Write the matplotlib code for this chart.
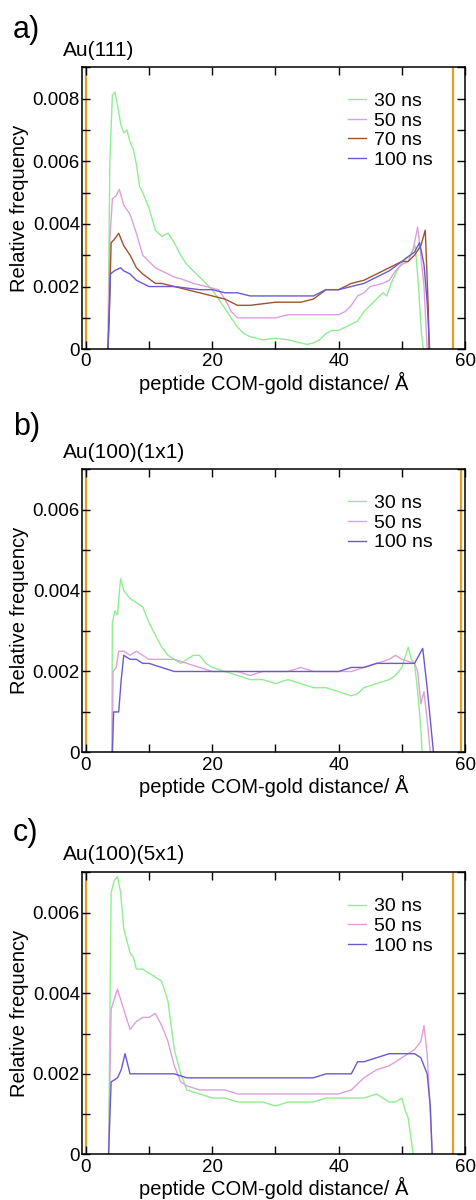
import matplotlib
matplotlib.use("Agg")
import matplotlib.pyplot as plt
from matplotlib.ticker import MultipleLocator, FuncFormatter

plt.rcParams['font.family'] = ['Liberation Sans', 'DejaVu Sans']

# ---- panel a) Au(111) ----
a_x30 = [3.5, 3.8, 4.2, 4.6, 5.0, 5.5, 6, 6.5, 7, 7.5, 8, 8.5, 9, 10, 11, 12, 13, 14, 15, 16,
         17, 18, 19, 20, 21, 22, 23, 24, 25, 26, 27, 28, 30, 32, 34, 35, 36, 37, 38, 39,
         40, 41, 42, 43, 44, 45, 46, 47, 47.6, 48.5, 49.5, 50.5, 51.3, 52.1, 52.6, 53.1, 53.4]
a_y30 = [0, 0.0060, 0.0081, 0.0082, 0.0078, 0.0072, 0.0069, 0.0070, 0.0066, 0.0064,
         0.0059, 0.0052, 0.0050, 0.0045, 0.0038, 0.0036, 0.0037, 0.0034, 0.0030, 0.0027,
         0.0025, 0.0023, 0.0021, 0.0019, 0.0016, 0.0013, 0.0010, 0.0007, 0.0005, 0.0004,
         0.00035, 0.0003, 0.00035, 0.0003, 0.0002, 0.00015, 0.0002, 0.0003, 0.0005, 0.0006,
         0.0006, 0.0007, 0.0008, 0.0009, 0.0012, 0.0014, 0.0016, 0.0018, 0.0017, 0.0022,
         0.0026, 0.0029, 0.0030, 0.0033, 0.0021, 0.0005, 0]
a_x50 = [3.5, 3.8, 4.2, 4.8, 5.3, 6, 7, 8, 9, 10, 11, 12, 13, 14, 15, 17, 19, 21, 22, 23,
         24, 26, 28, 30, 32, 34, 36, 38, 40, 41, 42, 43, 44, 45, 47, 48, 49, 50, 51, 51.8,
         52.5, 53, 53.5, 54]
a_y50 = [0, 0.0035, 0.0048, 0.0049, 0.0051, 0.0046, 0.0043, 0.0037, 0.0030, 0.0028,
         0.0026, 0.0025, 0.0024, 0.0023, 0.00225, 0.0021, 0.0020, 0.0019, 0.0016, 0.0012,
         0.0010, 0.0010, 0.0010, 0.0010, 0.0011, 0.0011, 0.0011, 0.0011, 0.0011, 0.0012,
         0.0014, 0.0017, 0.0018, 0.0020, 0.0021, 0.0022, 0.0025, 0.0027, 0.0028, 0.0032,
         0.0039, 0.0030, 0.0020, 0]
a_x70 = [3.5, 3.7, 4.0, 4.5, 5.2, 6, 7, 8, 9, 10, 11, 12, 14, 16, 18, 20, 22, 24, 26, 28,
         30, 32, 34, 36, 38, 40, 42, 44, 46, 48, 50, 51, 52, 53, 53.7, 54.2, 54.3]
a_y70 = [0, 0.0010, 0.0034, 0.0035, 0.0037, 0.0033, 0.0030, 0.0026, 0.0024, 0.00225,
         0.0021, 0.0021, 0.0020, 0.0019, 0.0018, 0.0017, 0.0016, 0.0014, 0.0014, 0.00145,
         0.0015, 0.0015, 0.0015, 0.0016, 0.0019, 0.0019, 0.0021, 0.0022, 0.0024, 0.0026,
         0.0028, 0.0028, 0.0030, 0.0033, 0.0038, 0.0012, 0]
a_x100 = [3.5, 3.9, 4.5, 5.5, 6, 7, 8, 9, 10, 12, 14, 16, 18, 20, 22, 24, 26, 28, 30, 32,
          34, 36, 38, 40, 42, 44, 46, 48, 50, 52, 52.8, 53.5, 54, 54.4]
a_y100 = [0, 0.0024, 0.0025, 0.0026, 0.0025, 0.0024, 0.0022, 0.0021, 0.0020, 0.0020,
          0.0020, 0.00195, 0.0019, 0.0019, 0.0018, 0.0018, 0.0017, 0.0017, 0.0017, 0.0017,
          0.0017, 0.0017, 0.0019, 0.0019, 0.0020, 0.0021, 0.0023, 0.0025, 0.0028, 0.0031,
          0.0034, 0.0027, 0.0015, 0]

# ---- panel b) Au(100)(1x1) ----
b_x30 = [4.1, 4.2, 4.6, 5.0, 5.5, 6, 7, 8, 9, 10, 11, 12, 13, 14, 15, 16, 17, 18, 19, 20,
         22, 24, 26, 28, 30, 32, 34, 36, 38, 40, 42, 43, 44, 46, 48, 49, 50, 51, 51.5, 52,
         52.5, 53, 53.2]
b_y30 = [0, 0.0032, 0.0035, 0.0034, 0.0043, 0.0040, 0.0038, 0.0037, 0.0036, 0.0032,
         0.0029, 0.0026, 0.0024, 0.0023, 0.0022, 0.0023, 0.0024, 0.0024, 0.0022, 0.0021,
         0.0020, 0.0019, 0.0018, 0.0018, 0.0017, 0.0018, 0.0017, 0.0016, 0.0016, 0.0015,
         0.0014, 0.00145, 0.0016, 0.0017, 0.0018, 0.0019, 0.0021, 0.0026, 0.0023, 0.0022,
         0.0015, 0.0006, 0]
b_x50 = [4.2, 4.3, 4.8, 5.2, 6, 7, 8, 9, 10, 12, 14, 16, 18, 20, 22, 24, 26, 28, 30, 32,
         34, 36, 38, 40, 42, 44, 46, 48, 49, 50, 52, 52.5, 53, 53.5, 54, 54.5]
b_y50 = [0, 0.0020, 0.0021, 0.0025, 0.0025, 0.0024, 0.0025, 0.0024, 0.0023, 0.0023,
         0.0023, 0.0022, 0.0021, 0.0020, 0.0020, 0.0020, 0.0019, 0.0020, 0.0020, 0.0020,
         0.0021, 0.0020, 0.0020, 0.0020, 0.0020, 0.0021, 0.0022, 0.0023, 0.0024, 0.0023,
         0.0022, 0.0020, 0.0012, 0.0015, 0.0008, 0]
b_x100 = [4.2, 4.4, 5.2, 5.6, 6, 7, 8, 9, 10, 12, 14, 16, 18, 20, 22, 24, 26, 28, 30, 32,
          34, 36, 38, 40, 42, 44, 46, 48, 50, 52, 53.3, 54, 54.5, 55]
b_y100 = [0, 0.0010, 0.0010, 0.0018, 0.0024, 0.0023, 0.0023, 0.0022, 0.0022, 0.0021,
          0.0020, 0.0020, 0.0020, 0.0020, 0.0020, 0.0020, 0.0020, 0.0020, 0.0020, 0.0020,
          0.0020, 0.0020, 0.0020, 0.0020, 0.0021, 0.0021, 0.0022, 0.0022, 0.0022, 0.0022,
          0.00257, 0.0016, 0.0008, 0]

# ---- panel c) Au(100)(5x1) ----
c_x30 = [3.6, 4.0, 4.5, 5.0, 5.5, 6, 7, 7.5, 8, 9, 10, 11, 12, 13, 14, 15, 16, 18, 20, 22,
         24, 26, 28, 30, 32, 34, 36, 38, 40, 42, 44, 46, 47, 48, 49, 50, 50.5, 51, 51.8]
c_y30 = [0, 0.0065, 0.0068, 0.0069, 0.0065, 0.0056, 0.0050, 0.0049, 0.0046, 0.0046,
         0.0045, 0.0044, 0.0043, 0.0038, 0.0026, 0.0020, 0.0016, 0.0015, 0.0014, 0.0014,
         0.0013, 0.0013, 0.0013, 0.0012, 0.0013, 0.0013, 0.0013, 0.0014, 0.0014, 0.0014,
         0.0014, 0.0015, 0.0014, 0.0013, 0.0013, 0.0014, 0.0011, 0.0009, 0]
c_x50 = [3.6, 4.0, 5.0, 6, 7, 8, 9, 10, 11, 12, 13, 14, 15, 16, 18, 20, 22, 24, 26, 28,
         30, 32, 34, 36, 38, 40, 42, 44, 46, 48, 50, 52, 53, 53.5, 54, 54.5, 54.8]
c_y50 = [0, 0.0036, 0.0041, 0.0036, 0.0031, 0.0033, 0.0034, 0.0034, 0.0035, 0.0032,
         0.0028, 0.0022, 0.0018, 0.0017, 0.0016, 0.0016, 0.0016, 0.0015, 0.0015, 0.0015,
         0.0015, 0.0015, 0.0015, 0.0015, 0.0015, 0.0015, 0.0016, 0.0019, 0.0021, 0.0022,
         0.0024, 0.0026, 0.0028, 0.0032, 0.0025, 0.0010, 0]
c_x100 = [3.6, 4.0, 5.0, 5.6, 6.2, 7, 8, 10, 12, 14, 16, 18, 20, 22, 24, 26, 28, 30, 32, 34,
          36, 38, 40, 42, 43, 44, 46, 48, 50, 52, 53, 54, 54.5, 54.8]
c_y100 = [0, 0.0018, 0.0019, 0.0021, 0.0025, 0.0020, 0.0020, 0.0020, 0.0020, 0.0020,
          0.0019, 0.0019, 0.0019, 0.0019, 0.0019, 0.0019, 0.0019, 0.0019, 0.0019, 0.0019,
          0.0019, 0.0020, 0.0020, 0.0020, 0.0023, 0.0023, 0.0024, 0.0025, 0.0025, 0.0025,
          0.0024, 0.0020, 0.0012, 0]

# surface positions (orange bars)
a_walls = [0, 58.1]
b_walls = [0, 59.4]
c_walls = [0, 58.1]

green = "#90ee90"
plum = "#dda0dd"
sienna = "#a0522d"
slate = "#6a5acd"
gold = "#e0a020"

panels = [
    ("a)", "Au(111)", 0.009, a_walls,
     [(a_x30, a_y30, green, "30 ns"), (a_x50, a_y50, plum, "50 ns"),
      (a_x70, a_y70, sienna, "70 ns"), (a_x100, a_y100, slate, "100 ns")],
     [0.172, 0.709, 0.803, 0.235], 0.975, 0.958),
    ("b)", "Au(100)(1x1)", 0.007, b_walls,
     [(b_x30, b_y30, green, "30 ns"), (b_x50, b_y50, plum, "50 ns"),
      (b_x100, b_y100, slate, "100 ns")],
     [0.172, 0.373, 0.803, 0.236], 0.644, 0.623),
    ("c)", "Au(100)(5x1)", 0.007, c_walls,
     [(c_x30, c_y30, green, "30 ns"), (c_x50, c_y50, plum, "50 ns"),
      (c_x100, c_y100, slate, "100 ns")],
     [0.172, 0.038, 0.803, 0.235], 0.306, 0.2875),
]

fig = plt.figure(figsize=(4.77, 12), dpi=100)

for tag, title, ymax, walls, series, rect, ytag, ytitle in panels:
    ax = fig.add_axes(rect)
    for w in walls:
        ax.axvline(w, color=gold, lw=1.6, zorder=1)
    for xs, ys, col, lab in series:
        ax.plot(xs, ys, color=col, lw=1.0, label=lab, zorder=2)
    ax.set_xlim(-0.6, 60)
    ax.set_ylim(0, ymax)
    ax.xaxis.set_major_locator(MultipleLocator(20))
    ax.xaxis.set_minor_locator(MultipleLocator(10))
    ax.yaxis.set_major_locator(MultipleLocator(0.002))
    ax.yaxis.set_minor_locator(MultipleLocator(0.001))
    ax.yaxis.set_major_formatter(FuncFormatter(lambda v, p: "0" if abs(v) < 1e-9 else "%.3f" % v))
    ax.tick_params(which="both", direction="in", top=True, right=True, length=6,
                   width=1.0, labelsize=13.5)
    ax.tick_params(axis="y", pad=1.5)
    ax.tick_params(axis="x", pad=3)
    for s in ax.spines.values():
        s.set_linewidth(1.1)
    ax.set_xlabel("peptide COM-gold distance/ Å", fontsize=14.5, labelpad=1)
    ax.set_ylabel("Relative frequency", fontsize=14.5, labelpad=3)
    ax.legend(loc="upper left", bbox_to_anchor=(0.695, 0.91), frameon=False,
              fontsize=14, handlelength=0.9, handletextpad=0.4,
              labelspacing=0.1, borderpad=0, borderaxespad=0)
    fig.text(0.027, ytag, tag, fontsize=22, va="center", ha="left")
    fig.text(0.132, ytitle, title, fontsize=15, va="center", ha="left")

fig.savefig("out.png", dpi=100)
